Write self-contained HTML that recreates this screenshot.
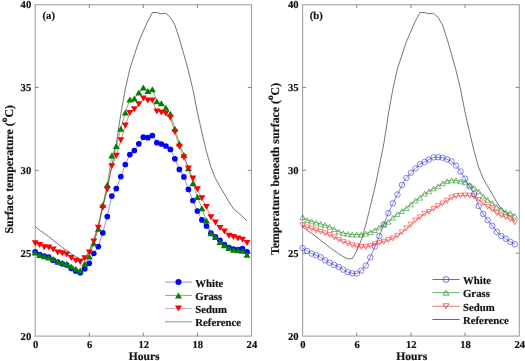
<!DOCTYPE html><html><head><meta charset="utf-8"><style>
html,body{margin:0;padding:0;background:#fff;}
svg{display:block;}
text{font-family:"Liberation Serif",serif;font-weight:bold;fill:#111;stroke:#111;stroke-width:0.18px;text-rendering:geometricPrecision;}
.tk{font-size:10.6px;}
.lb{font-size:11.6px;}
.lg{font-size:10.75px;}
.yl{font-size:11.8px;}
</style></head><body>
<svg width="525" height="361" viewBox="0 0 525 361">
<rect width="525" height="361" fill="#fff"/>
<rect x="35.2" y="4.75" width="216.3" height="331.35" fill="none" stroke="#a2a2a2" stroke-width="1.1"/>
<path d="M89.28 336.1V332.5M89.28 4.5V8.1M143.35 336.1V332.5M143.35 4.5V8.1M197.43 336.1V332.5M197.43 4.5V8.1M35.2 253.2H38.8M251.5 253.2H247.9M35.2 170.3H38.8M251.5 170.3H247.9M35.2 87.4H38.8M251.5 87.4H247.9" stroke="#555" stroke-width="0.7" fill="none"/>
<rect x="302.6" y="4.75" width="216.7" height="331.35" fill="none" stroke="#a2a2a2" stroke-width="1.1"/>
<path d="M356.77 336.1V332.5M356.77 4.5V8.1M410.95 336.1V332.5M410.95 4.5V8.1M465.12 336.1V332.5M465.12 4.5V8.1M302.6 253.2H306.2M519.3 253.2H515.7M302.6 170.3H306.2M519.3 170.3H515.7M302.6 87.4H306.2M519.3 87.4H515.7" stroke="#555" stroke-width="0.7" fill="none"/>
<polyline points="35.2,226.6 39.71,230.3 44.21,233.4 48.72,236.7 53.23,240.2 57.73,243.8 62.24,247.4 66.74,250.6 71.25,253.8 75.76,256.7 80.26,258.9 84.77,258.6 89.28,251 93.78,240 98.29,224.5 102.79,206.5 107.3,188 111.81,166 116.31,143.5 120.82,114 125.33,89 129.83,68.9 134.34,55 138.84,41.5 143.35,31 147.86,21 152.36,12.5 156.87,12.5 161.38,13.8 165.88,13.3 170.39,17.4 174.89,25 179.4,38.8 183.91,54.5 188.41,70.6 192.92,89.5 197.43,112.5 201.93,132.5 206.44,151.5 210.94,167.2 215.45,178.4 219.96,186.5 224.46,194.1 228.97,202 233.48,208.8 237.98,212.5 242.49,216.5 246.99,220.9" fill="none" stroke="#484848" stroke-width="0.75"/>
<polyline points="35.2,251.9 39.71,254.5 44.21,256.1 48.72,257 53.23,260.2 57.73,262 62.24,263.8 66.74,265 71.25,268.3 75.76,271 80.26,272.7 84.77,268.8 89.28,263.3 93.78,253.5 98.29,246.6 102.79,232.8 107.3,216.6 111.81,196.1 116.31,188.6 120.82,176.6 125.33,164.5 129.83,154.6 134.34,150.5 138.84,143.8 143.35,137.2 147.86,137.7 152.36,135.5 156.87,142.7 161.38,144 165.88,146 170.39,149.4 174.89,158.8 179.4,169.4 183.91,176.9 188.41,189.4 192.92,200.5 197.43,211 201.93,219.9 206.44,226 210.94,233.2 215.45,236.8 219.96,240.3 224.46,244.7 228.97,247.5 233.48,249.1 237.98,249.7 242.49,248.6 246.99,251.8" fill="none" stroke="#5050d0" stroke-width="0.6"/>
<polyline points="35.2,252.6 39.71,255 44.21,256.2 48.72,257.5 53.23,259 57.73,261.6 62.24,262.7 66.74,263.8 71.25,266.6 75.76,268.8 80.26,270.5 84.77,263.8 89.28,256.6 93.78,243.3 98.29,228.8 102.79,205 107.3,184.7 111.81,155.4 116.31,146.1 120.82,128.7 125.33,112.5 129.83,99.4 134.34,98.4 138.84,92.4 143.35,87.6 147.86,90.9 152.36,89.2 156.87,101.3 161.38,103.3 165.88,107.7 170.39,113.7 174.89,128.8 179.4,143.5 183.91,155 188.41,168.3 192.92,183.3 197.43,197.1 201.93,208.3 206.44,220.5 210.94,233.2 215.45,237 219.96,242 224.46,245.3 228.97,248 233.48,249.7 237.98,250.3 242.49,250.8 246.99,254.7" fill="none" stroke="#1a8a1a" stroke-width="0.6"/>
<polyline points="35.2,243.3 39.71,244.9 44.21,247.3 48.72,247.6 53.23,249.5 57.73,252.4 62.24,253.3 66.74,254.4 71.25,258 75.76,260.8 80.26,262 84.77,258.2 89.28,252.4 93.78,241.5 98.29,227.7 102.79,207.8 107.3,189.6 111.81,166.2 116.31,155.8 120.82,140.2 125.33,125.4 129.83,112.9 134.34,109.2 138.84,104.2 143.35,98.6 147.86,100.4 152.36,100.4 156.87,111.5 161.38,112.4 165.88,113.7 170.39,117.7 174.89,132.1 179.4,146.8 183.91,157.5 188.41,168.6 192.92,178.6 197.43,189.2 201.93,198.2 206.44,207 210.94,217.2 215.45,222.6 219.96,227.9 224.46,231.5 228.97,235.7 233.48,237 237.98,238.6 242.49,239.7 246.99,242.9" fill="none" stroke="#b04040" stroke-width="0.6"/>
<g fill="#0000ff"><circle cx="35.2" cy="251.9" r="2.85"/><circle cx="39.71" cy="254.5" r="2.85"/><circle cx="44.21" cy="256.1" r="2.85"/><circle cx="48.72" cy="257" r="2.85"/><circle cx="53.23" cy="260.2" r="2.85"/><circle cx="57.73" cy="262" r="2.85"/><circle cx="62.24" cy="263.8" r="2.85"/><circle cx="66.74" cy="265" r="2.85"/><circle cx="71.25" cy="268.3" r="2.85"/><circle cx="75.76" cy="271" r="2.85"/><circle cx="80.26" cy="272.7" r="2.85"/><circle cx="84.77" cy="268.8" r="2.85"/><circle cx="89.28" cy="263.3" r="2.85"/><circle cx="93.78" cy="253.5" r="2.85"/><circle cx="98.29" cy="246.6" r="2.85"/><circle cx="102.79" cy="232.8" r="2.85"/><circle cx="107.3" cy="216.6" r="2.85"/><circle cx="111.81" cy="196.1" r="2.85"/><circle cx="116.31" cy="188.6" r="2.85"/><circle cx="120.82" cy="176.6" r="2.85"/><circle cx="125.33" cy="164.5" r="2.85"/><circle cx="129.83" cy="154.6" r="2.85"/><circle cx="134.34" cy="150.5" r="2.85"/><circle cx="138.84" cy="143.8" r="2.85"/><circle cx="143.35" cy="137.2" r="2.85"/><circle cx="147.86" cy="137.7" r="2.85"/><circle cx="152.36" cy="135.5" r="2.85"/><circle cx="156.87" cy="142.7" r="2.85"/><circle cx="161.38" cy="144" r="2.85"/><circle cx="165.88" cy="146" r="2.85"/><circle cx="170.39" cy="149.4" r="2.85"/><circle cx="174.89" cy="158.8" r="2.85"/><circle cx="179.4" cy="169.4" r="2.85"/><circle cx="183.91" cy="176.9" r="2.85"/><circle cx="188.41" cy="189.4" r="2.85"/><circle cx="192.92" cy="200.5" r="2.85"/><circle cx="197.43" cy="211" r="2.85"/><circle cx="201.93" cy="219.9" r="2.85"/><circle cx="206.44" cy="226" r="2.85"/><circle cx="210.94" cy="233.2" r="2.85"/><circle cx="215.45" cy="236.8" r="2.85"/><circle cx="219.96" cy="240.3" r="2.85"/><circle cx="224.46" cy="244.7" r="2.85"/><circle cx="228.97" cy="247.5" r="2.85"/><circle cx="233.48" cy="249.1" r="2.85"/><circle cx="237.98" cy="249.7" r="2.85"/><circle cx="242.49" cy="248.6" r="2.85"/><circle cx="246.99" cy="251.8" r="2.85"/></g>
<path fill="#008000" d="M35.2 249.6L38.7 255.6L31.7 255.6ZM39.71 252L43.21 258L36.21 258ZM44.21 253.2L47.71 259.2L40.71 259.2ZM48.72 254.5L52.22 260.5L45.22 260.5ZM53.23 256L56.73 262L49.73 262ZM57.73 258.6L61.23 264.6L54.23 264.6ZM62.24 259.7L65.74 265.7L58.74 265.7ZM66.74 260.8L70.24 266.8L63.24 266.8ZM71.25 263.6L74.75 269.6L67.75 269.6ZM75.76 265.8L79.26 271.8L72.26 271.8ZM80.26 267.5L83.76 273.5L76.76 273.5ZM84.77 260.8L88.27 266.8L81.27 266.8ZM89.28 253.6L92.78 259.6L85.78 259.6ZM93.78 240.3L97.28 246.3L90.28 246.3ZM98.29 225.8L101.79 231.8L94.79 231.8ZM102.79 202L106.29 208L99.29 208ZM107.3 181.7L110.8 187.7L103.8 187.7ZM111.81 152.4L115.31 158.4L108.31 158.4ZM116.31 143.1L119.81 149.1L112.81 149.1ZM120.82 125.7L124.32 131.7L117.32 131.7ZM125.33 109.5L128.82 115.5L121.83 115.5ZM129.83 96.4L133.33 102.4L126.33 102.4ZM134.34 95.4L137.84 101.4L130.84 101.4ZM138.84 89.4L142.34 95.4L135.34 95.4ZM143.35 84.6L146.85 90.6L139.85 90.6ZM147.86 87.9L151.36 93.9L144.36 93.9ZM152.36 86.2L155.86 92.2L148.86 92.2ZM156.87 98.3L160.37 104.3L153.37 104.3ZM161.38 100.3L164.88 106.3L157.88 106.3ZM165.88 104.7L169.38 110.7L162.38 110.7ZM170.39 110.7L173.89 116.7L166.89 116.7ZM174.89 125.8L178.39 131.8L171.39 131.8ZM179.4 140.5L182.9 146.5L175.9 146.5ZM183.91 152L187.41 158L180.41 158ZM188.41 165.3L191.91 171.3L184.91 171.3ZM192.92 180.3L196.42 186.3L189.42 186.3ZM197.43 194.1L200.93 200.1L193.93 200.1ZM201.93 205.3L205.43 211.3L198.43 211.3ZM206.44 217.5L209.94 223.5L202.94 223.5ZM210.94 230.2L214.44 236.2L207.44 236.2ZM215.45 234L218.95 240L211.95 240ZM219.96 239L223.46 245L216.46 245ZM224.46 242.3L227.96 248.3L220.96 248.3ZM228.97 245L232.47 251L225.47 251ZM233.48 246.7L236.98 252.7L229.98 252.7ZM237.98 247.3L241.48 253.3L234.48 253.3ZM242.49 247.8L245.99 253.8L238.99 253.8ZM246.99 251.7L250.49 257.7L243.49 257.7Z"/>
<path fill="#ff0000" d="M31.7 240.3L38.7 240.3L35.2 246.3ZM36.21 241.9L43.21 241.9L39.71 247.9ZM40.71 244.3L47.71 244.3L44.21 250.3ZM45.22 244.6L52.22 244.6L48.72 250.6ZM49.73 246.5L56.73 246.5L53.23 252.5ZM54.23 249.4L61.23 249.4L57.73 255.4ZM58.74 250.3L65.74 250.3L62.24 256.3ZM63.24 251.4L70.24 251.4L66.74 257.4ZM67.75 255L74.75 255L71.25 261ZM72.26 257.8L79.26 257.8L75.76 263.8ZM76.76 259L83.76 259L80.26 265ZM81.27 255.2L88.27 255.2L84.77 261.2ZM85.78 249.4L92.78 249.4L89.28 255.4ZM90.28 238.5L97.28 238.5L93.78 244.5ZM94.79 224.7L101.79 224.7L98.29 230.7ZM99.29 204.8L106.29 204.8L102.79 210.8ZM103.8 186.6L110.8 186.6L107.3 192.6ZM108.31 163.2L115.31 163.2L111.81 169.2ZM112.81 152.8L119.81 152.8L116.31 158.8ZM117.32 137.2L124.32 137.2L120.82 143.2ZM121.83 122.4L128.82 122.4L125.33 128.4ZM126.33 109.9L133.33 109.9L129.83 115.9ZM130.84 106.2L137.84 106.2L134.34 112.2ZM135.34 101.2L142.34 101.2L138.84 107.2ZM139.85 95.6L146.85 95.6L143.35 101.6ZM144.36 97.4L151.36 97.4L147.86 103.4ZM148.86 97.4L155.86 97.4L152.36 103.4ZM153.37 108.5L160.37 108.5L156.87 114.5ZM157.88 109.4L164.88 109.4L161.38 115.4ZM162.38 110.7L169.38 110.7L165.88 116.7ZM166.89 114.7L173.89 114.7L170.39 120.7ZM171.39 129.1L178.39 129.1L174.89 135.1ZM175.9 143.8L182.9 143.8L179.4 149.8ZM180.41 154.5L187.41 154.5L183.91 160.5ZM184.91 165.6L191.91 165.6L188.41 171.6ZM189.42 175.6L196.42 175.6L192.92 181.6ZM193.93 186.2L200.93 186.2L197.43 192.2ZM198.43 195.2L205.43 195.2L201.93 201.2ZM202.94 204L209.94 204L206.44 210ZM207.44 214.2L214.44 214.2L210.94 220.2ZM211.95 219.6L218.95 219.6L215.45 225.6ZM216.46 224.9L223.46 224.9L219.96 230.9ZM220.96 228.5L227.96 228.5L224.46 234.5ZM225.47 232.7L232.47 232.7L228.97 238.7ZM229.98 234L236.98 234L233.48 240ZM234.48 235.6L241.48 235.6L237.98 241.6ZM238.99 236.7L245.99 236.7L242.49 242.7ZM243.49 239.9L250.49 239.9L246.99 245.9Z"/>
<polyline points="302.6,226.6 307.11,230.3 311.63,233.4 316.14,236.7 320.66,240.2 325.17,243.8 329.69,247.4 334.2,250.6 338.72,253.8 343.23,256.7 347.75,258.9 352.26,258.6 356.77,251 361.29,240 365.8,224.5 370.32,206.5 374.83,188 379.35,166 383.86,143.5 388.38,114 392.89,89 397.41,68.9 401.92,55 406.44,41.5 410.95,31 415.46,21 419.98,12.5 424.49,12.5 429.01,13.8 433.52,13.3 438.04,17.4 442.55,25 447.07,38.8 451.58,54.5 456.1,70.6 460.61,89.5 465.12,112.5 469.64,132.5 474.15,151.5 478.67,167.2 483.18,178.4 487.7,186.5 492.21,194.1 496.73,202 501.24,208.8 505.76,212.5 510.27,216.5 514.79,220.9" fill="none" stroke="#484848" stroke-width="0.75"/>
<polyline points="302.6,248 307.11,251 311.63,253.6 316.14,255.2 320.66,257.3 325.17,260.4 329.69,262.7 334.2,264.9 338.72,267 343.23,269.6 347.75,272.1 352.26,273.4 356.77,273.6 361.29,270.5 365.8,265.5 370.32,257.3 374.83,246.5 379.35,236.1 383.86,224.3 388.38,213.1 392.89,203.3 397.41,194.5 401.92,185 406.44,177.9 410.95,172.7 415.46,168.4 419.98,164.2 424.49,162 429.01,159.6 433.52,157.4 438.04,157.2 442.55,157.7 447.07,159.4 451.58,161.4 456.1,165.6 460.61,171.5 465.12,178.7 469.64,186.4 474.15,194 478.67,206.1 483.18,214 487.7,220.2 492.21,225.8 496.73,231.8 501.24,236 505.76,238.7 510.27,241.8 514.79,244.3" fill="none" stroke="#3a3ab0" stroke-width="0.6"/>
<polyline points="302.6,217.1 307.11,220.2 311.63,221.4 316.14,222.6 320.66,223.9 325.17,225.1 329.69,226.8 334.2,229.1 338.72,231.6 343.23,233.1 347.75,233.9 352.26,234.5 356.77,234.5 361.29,234.5 365.8,233.6 370.32,232.1 374.83,230.1 379.35,227.4 383.86,224.6 388.38,221.7 392.89,217.8 397.41,214.1 401.92,211.1 406.44,208.1 410.95,204.4 415.46,200.5 419.98,197.7 424.49,193.6 429.01,191.3 433.52,188.5 438.04,186.2 442.55,183.2 447.07,181.1 451.58,180.2 456.1,180.4 460.61,181.3 465.12,182.3 469.64,185.1 474.15,187.9 478.67,191.4 483.18,196.4 487.7,199.8 492.21,203.3 496.73,206.8 501.24,209.5 505.76,212.3 510.27,213 514.79,215.8" fill="none" stroke="#1a8a1a" stroke-width="0.6"/>
<polyline points="302.6,225.4 307.11,227.5 311.63,228.8 316.14,230.4 320.66,231.7 325.17,233.3 329.69,235 334.2,237.3 338.72,239.8 343.23,241.8 347.75,243.6 352.26,245.1 356.77,246.3 361.29,247.1 365.8,247.1 370.32,245.8 374.83,244.3 379.35,243.1 383.86,241.8 388.38,240.1 392.89,238.4 397.41,235.7 401.92,232.3 406.44,228.5 410.95,224.6 415.46,220.5 419.98,217.3 424.49,213.8 429.01,211.8 433.52,209 438.04,206.2 442.55,203.5 447.07,200.7 451.58,197.6 456.1,196.1 460.61,195.7 465.12,195.5 469.64,195.7 474.15,196.6 478.67,199.8 483.18,203.3 487.7,206.8 492.21,209.5 496.73,213 501.24,215.8 505.76,217.2 510.27,219.2 514.79,222.3" fill="none" stroke="#e02020" stroke-width="0.6"/>
<g fill="none" stroke="#3030e0" stroke-width="0.6"><circle cx="302.6" cy="248" r="2.75"/><circle cx="307.11" cy="251" r="2.75"/><circle cx="311.63" cy="253.6" r="2.75"/><circle cx="316.14" cy="255.2" r="2.75"/><circle cx="320.66" cy="257.3" r="2.75"/><circle cx="325.17" cy="260.4" r="2.75"/><circle cx="329.69" cy="262.7" r="2.75"/><circle cx="334.2" cy="264.9" r="2.75"/><circle cx="338.72" cy="267" r="2.75"/><circle cx="343.23" cy="269.6" r="2.75"/><circle cx="347.75" cy="272.1" r="2.75"/><circle cx="352.26" cy="273.4" r="2.75"/><circle cx="356.77" cy="273.6" r="2.75"/><circle cx="361.29" cy="270.5" r="2.75"/><circle cx="365.8" cy="265.5" r="2.75"/><circle cx="370.32" cy="257.3" r="2.75"/><circle cx="374.83" cy="246.5" r="2.75"/><circle cx="379.35" cy="236.1" r="2.75"/><circle cx="383.86" cy="224.3" r="2.75"/><circle cx="388.38" cy="213.1" r="2.75"/><circle cx="392.89" cy="203.3" r="2.75"/><circle cx="397.41" cy="194.5" r="2.75"/><circle cx="401.92" cy="185" r="2.75"/><circle cx="406.44" cy="177.9" r="2.75"/><circle cx="410.95" cy="172.7" r="2.75"/><circle cx="415.46" cy="168.4" r="2.75"/><circle cx="419.98" cy="164.2" r="2.75"/><circle cx="424.49" cy="162" r="2.75"/><circle cx="429.01" cy="159.6" r="2.75"/><circle cx="433.52" cy="157.4" r="2.75"/><circle cx="438.04" cy="157.2" r="2.75"/><circle cx="442.55" cy="157.7" r="2.75"/><circle cx="447.07" cy="159.4" r="2.75"/><circle cx="451.58" cy="161.4" r="2.75"/><circle cx="456.1" cy="165.6" r="2.75"/><circle cx="460.61" cy="171.5" r="2.75"/><circle cx="465.12" cy="178.7" r="2.75"/><circle cx="469.64" cy="186.4" r="2.75"/><circle cx="474.15" cy="194" r="2.75"/><circle cx="478.67" cy="206.1" r="2.75"/><circle cx="483.18" cy="214" r="2.75"/><circle cx="487.7" cy="220.2" r="2.75"/><circle cx="492.21" cy="225.8" r="2.75"/><circle cx="496.73" cy="231.8" r="2.75"/><circle cx="501.24" cy="236" r="2.75"/><circle cx="505.76" cy="238.7" r="2.75"/><circle cx="510.27" cy="241.8" r="2.75"/><circle cx="514.79" cy="244.3" r="2.75"/></g>
<path fill="none" stroke="#1a8a1a" stroke-width="0.55" d="M302.6 214.65L305.3 219.55L299.9 219.55ZM307.11 217.75L309.81 222.65L304.41 222.65ZM311.63 218.95L314.33 223.85L308.93 223.85ZM316.14 220.15L318.84 225.05L313.44 225.05ZM320.66 221.45L323.36 226.35L317.96 226.35ZM325.17 222.65L327.87 227.55L322.47 227.55ZM329.69 224.35L332.39 229.25L326.99 229.25ZM334.2 226.65L336.9 231.55L331.5 231.55ZM338.72 229.15L341.42 234.05L336.02 234.05ZM343.23 230.65L345.93 235.55L340.53 235.55ZM347.75 231.45L350.45 236.35L345.05 236.35ZM352.26 232.05L354.96 236.95L349.56 236.95ZM356.77 232.05L359.47 236.95L354.07 236.95ZM361.29 232.05L363.99 236.95L358.59 236.95ZM365.8 231.15L368.5 236.05L363.1 236.05ZM370.32 229.65L373.02 234.55L367.62 234.55ZM374.83 227.65L377.53 232.55L372.13 232.55ZM379.35 224.95L382.05 229.85L376.65 229.85ZM383.86 222.15L386.56 227.05L381.16 227.05ZM388.38 219.25L391.08 224.15L385.68 224.15ZM392.89 215.35L395.59 220.25L390.19 220.25ZM397.41 211.65L400.11 216.55L394.71 216.55ZM401.92 208.65L404.62 213.55L399.22 213.55ZM406.44 205.65L409.14 210.55L403.74 210.55ZM410.95 201.95L413.65 206.85L408.25 206.85ZM415.46 198.05L418.16 202.95L412.76 202.95ZM419.98 195.25L422.68 200.15L417.28 200.15ZM424.49 191.15L427.19 196.05L421.79 196.05ZM429.01 188.85L431.71 193.75L426.31 193.75ZM433.52 186.05L436.22 190.95L430.82 190.95ZM438.04 183.75L440.74 188.65L435.34 188.65ZM442.55 180.75L445.25 185.65L439.85 185.65ZM447.07 178.65L449.77 183.55L444.37 183.55ZM451.58 177.75L454.28 182.65L448.88 182.65ZM456.1 177.95L458.8 182.85L453.4 182.85ZM460.61 178.85L463.31 183.75L457.91 183.75ZM465.12 179.85L467.82 184.75L462.43 184.75ZM469.64 182.65L472.34 187.55L466.94 187.55ZM474.15 185.45L476.85 190.35L471.45 190.35ZM478.67 188.95L481.37 193.85L475.97 193.85ZM483.18 193.95L485.88 198.85L480.48 198.85ZM487.7 197.35L490.4 202.25L485 202.25ZM492.21 200.85L494.91 205.75L489.51 205.75ZM496.73 204.35L499.43 209.25L494.03 209.25ZM501.24 207.05L503.94 211.95L498.54 211.95ZM505.76 209.85L508.46 214.75L503.06 214.75ZM510.27 210.55L512.97 215.45L507.57 215.45ZM514.79 213.35L517.49 218.25L512.09 218.25Z"/>
<path fill="none" stroke="#ff2020" stroke-width="0.55" d="M299.9 222.95L305.3 222.95L302.6 227.85ZM304.41 225.05L309.81 225.05L307.11 229.95ZM308.93 226.35L314.33 226.35L311.63 231.25ZM313.44 227.95L318.84 227.95L316.14 232.85ZM317.96 229.25L323.36 229.25L320.66 234.15ZM322.47 230.85L327.87 230.85L325.17 235.75ZM326.99 232.55L332.39 232.55L329.69 237.45ZM331.5 234.85L336.9 234.85L334.2 239.75ZM336.02 237.35L341.42 237.35L338.72 242.25ZM340.53 239.35L345.93 239.35L343.23 244.25ZM345.05 241.15L350.45 241.15L347.75 246.05ZM349.56 242.65L354.96 242.65L352.26 247.55ZM354.07 243.85L359.47 243.85L356.77 248.75ZM358.59 244.65L363.99 244.65L361.29 249.55ZM363.1 244.65L368.5 244.65L365.8 249.55ZM367.62 243.35L373.02 243.35L370.32 248.25ZM372.13 241.85L377.53 241.85L374.83 246.75ZM376.65 240.65L382.05 240.65L379.35 245.55ZM381.16 239.35L386.56 239.35L383.86 244.25ZM385.68 237.65L391.08 237.65L388.38 242.55ZM390.19 235.95L395.59 235.95L392.89 240.85ZM394.71 233.25L400.11 233.25L397.41 238.15ZM399.22 229.85L404.62 229.85L401.92 234.75ZM403.74 226.05L409.14 226.05L406.44 230.95ZM408.25 222.15L413.65 222.15L410.95 227.05ZM412.76 218.05L418.16 218.05L415.46 222.95ZM417.28 214.85L422.68 214.85L419.98 219.75ZM421.79 211.35L427.19 211.35L424.49 216.25ZM426.31 209.35L431.71 209.35L429.01 214.25ZM430.82 206.55L436.22 206.55L433.52 211.45ZM435.34 203.75L440.74 203.75L438.04 208.65ZM439.85 201.05L445.25 201.05L442.55 205.95ZM444.37 198.25L449.77 198.25L447.07 203.15ZM448.88 195.15L454.28 195.15L451.58 200.05ZM453.4 193.65L458.8 193.65L456.1 198.55ZM457.91 193.25L463.31 193.25L460.61 198.15ZM462.43 193.05L467.82 193.05L465.12 197.95ZM466.94 193.25L472.34 193.25L469.64 198.15ZM471.45 194.15L476.85 194.15L474.15 199.05ZM475.97 197.35L481.37 197.35L478.67 202.25ZM480.48 200.85L485.88 200.85L483.18 205.75ZM485 204.35L490.4 204.35L487.7 209.25ZM489.51 207.05L494.91 207.05L492.21 211.95ZM494.03 210.55L499.43 210.55L496.73 215.45ZM498.54 213.35L503.94 213.35L501.24 218.25ZM503.06 214.75L508.46 214.75L505.76 219.65ZM507.57 216.75L512.97 216.75L510.27 221.65ZM512.09 219.85L517.49 219.85L514.79 224.75Z"/>
<path d="M165 282.1H192" stroke="#7878f0" stroke-width="0.8"/>
<circle cx="178.5" cy="282.1" r="3.05" fill="#0000ff"/>
<path d="M165 295.4H192" stroke="#4aa84a" stroke-width="0.8"/>
<path fill="#008000" d="M178.5 292.4L182 298.4L175 298.4Z"/>
<path d="M165 308.5H192" stroke="#c89a9a" stroke-width="0.8"/>
<path fill="#ff0000" d="M175 305.5L182 305.5L178.5 311.5Z"/>
<path d="M165 321.8H192" stroke="#999" stroke-width="1.1"/>
<path d="M432.4 279.5H459.6" stroke="#4a4a8a" stroke-width="0.8"/>
<circle cx="446" cy="279.5" r="2.9" fill="none" stroke="#3030e0" stroke-width="0.7"/>
<path d="M432.4 292.6H459.6" stroke="#4a9a4a" stroke-width="0.8"/>
<path fill="none" stroke="#1a8a1a" stroke-width="0.7" d="M446 290.1L448.9 295.1L443.1 295.1Z"/>
<path d="M432.4 306.3H459.6" stroke="#d85858" stroke-width="0.8"/>
<path fill="none" stroke="#e02020" stroke-width="0.7" d="M443.1 303.8L448.9 303.8L446 308.8Z"/>
<path d="M432.4 319.5H459.6" stroke="#444" stroke-width="0.8"/>
<defs><filter id="nf" filterUnits="userSpaceOnUse" x="0" y="0" width="525" height="361"><feOffset dx="0" dy="0"/></filter></defs>
<g filter="url(#nf)"><text x="35.6" y="347.6" text-anchor="middle" class="tk">0</text><text x="89.68" y="347.6" text-anchor="middle" class="tk">6</text><text x="143.75" y="347.6" text-anchor="middle" class="tk">12</text><text x="197.83" y="347.6" text-anchor="middle" class="tk">18</text><text x="251.9" y="347.6" text-anchor="middle" class="tk">24</text><text x="31.2" y="340" text-anchor="end" class="tk">20</text><text x="31.2" y="257.1" text-anchor="end" class="tk">25</text><text x="31.2" y="174.2" text-anchor="end" class="tk">30</text><text x="31.2" y="91.3" text-anchor="end" class="tk">35</text><text x="31.2" y="8.4" text-anchor="end" class="tk">40</text><text x="303" y="347.6" text-anchor="middle" class="tk">0</text><text x="357.17" y="347.6" text-anchor="middle" class="tk">6</text><text x="411.35" y="347.6" text-anchor="middle" class="tk">12</text><text x="465.52" y="347.6" text-anchor="middle" class="tk">18</text><text x="519.7" y="347.6" text-anchor="middle" class="tk">24</text><text x="298.6" y="340" text-anchor="end" class="tk">20</text><text x="298.6" y="257.1" text-anchor="end" class="tk">25</text><text x="298.6" y="174.2" text-anchor="end" class="tk">30</text><text x="298.6" y="91.3" text-anchor="end" class="tk">35</text><text x="298.6" y="8.4" text-anchor="end" class="tk">40</text><text x="195.3" y="286.5" class="lg">White</text><text x="195.3" y="299.8" class="lg">Grass</text><text x="195.3" y="312.9" class="lg">Sedum</text><text x="195.3" y="325.9" class="lg">Reference</text><text x="463" y="283.9" class="lg">White</text><text x="463" y="297" class="lg">Grass</text><text x="463" y="310.7" class="lg">Sedum</text><text x="463" y="323.9" class="lg">Reference</text><text x="42.6" y="19.2" class="tk">(a)</text><text x="309.8" y="19.2" class="tk">(b)</text><text x="144.1" y="359.6" text-anchor="middle" class="lb">Hours</text><text x="411.7" y="359.6" text-anchor="middle" class="lb">Hours</text><text transform="translate(12.6 169.3) rotate(-90)" text-anchor="middle" class="yl">Surface temperature (<tspan font-size="9.4px" dy="-5.6">o</tspan><tspan dy="5.6">C)</tspan></text><text transform="translate(279.0 169.0) rotate(-90)" text-anchor="middle" class="yl">Temperature beneath surface (<tspan font-size="9.4px" dy="-5.6">o</tspan><tspan dy="5.6">C)</tspan></text></g>
</svg></body></html>
